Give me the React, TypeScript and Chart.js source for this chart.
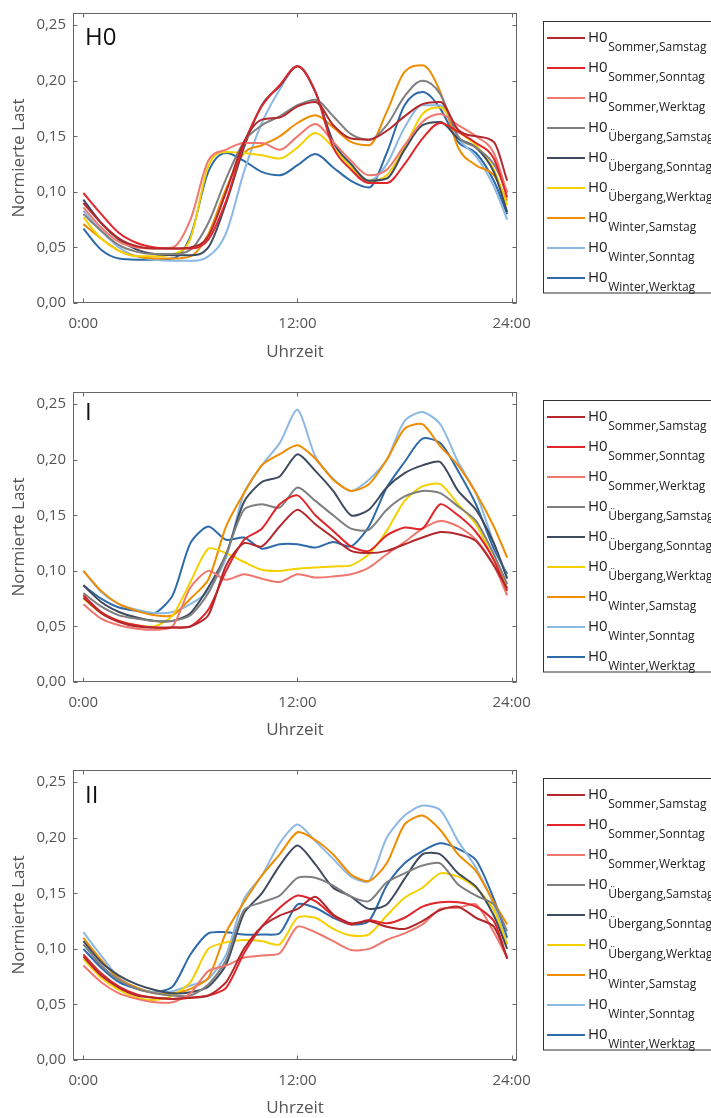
import React, { useEffect, useRef } from 'react';
import { Chart, registerables } from 'chart.js';

Chart.register(...registerables);
Chart.defaults.font.family = '"Open Sans", sans-serif';

// ---------- shared axes / labels ----------
const HOURS = [0, 1, 2, 3, 4, 5, 6, 7, 8, 9, 10, 11, 12, 13, 14, 15, 16, 17, 18, 19, 20, 21, 22, 23, 23.75];
const X_TICK_HOURS = [0, 12, 24];
const X_TICK_LABELS = ['0:00', '12:00', '24:00'];
const Y_TICK_VALUES = [0, 0.05, 0.1, 0.15, 0.2, 0.25];
const Y_TICK_LABELS = ['0,00', '0,05', '0,10', '0,15', '0,20', '0,25'];
const X_TITLE = 'Uhrzeit';
const Y_TITLE = 'Normierte Last';
const PANEL_LABELS = ['H0', 'I', 'II'];
const LEGEND_PREFIX = 'H0';
const SERIES_NAMES = [
  'Sommer,Samstag', 'Sommer,Sonntag', 'Sommer,Werktag',
  'Übergang,Samstag', 'Übergang,Sonntag', 'Übergang,Werktag',
  'Winter,Samstag', 'Winter,Sonntag', 'Winter,Werktag',
];
const SERIES_COLORS = ['#b3282d', '#e0252b', '#f0776e', '#7f7f7f', '#3e4a5e', '#f5d000', '#ef8c00', '#8cb8e4', '#2e6aa9'];

// ---------- panel H0 ----------
const H0_SOMMER_SAMSTAG = [0.090, 0.072, 0.058, 0.051, 0.049, 0.049, 0.050, 0.060, 0.100, 0.145, 0.165, 0.167, 0.177, 0.181, 0.160, 0.148, 0.147, 0.155, 0.168, 0.179, 0.181, 0.156, 0.150, 0.145, 0.110];
const H0_SOMMER_SONNTAG = [0.099, 0.080, 0.063, 0.054, 0.050, 0.049, 0.049, 0.057, 0.092, 0.143, 0.177, 0.196, 0.213, 0.190, 0.140, 0.120, 0.108, 0.108, 0.125, 0.148, 0.162, 0.154, 0.144, 0.130, 0.095];
const H0_SOMMER_WERKTAG = [0.086, 0.068, 0.055, 0.050, 0.049, 0.050, 0.075, 0.128, 0.138, 0.144, 0.144, 0.138, 0.150, 0.161, 0.145, 0.128, 0.115, 0.120, 0.142, 0.163, 0.170, 0.160, 0.150, 0.135, 0.099];
const H0_UEBERGANG_SAMSTAG = [0.080, 0.065, 0.052, 0.046, 0.044, 0.044, 0.048, 0.072, 0.112, 0.145, 0.160, 0.168, 0.178, 0.183, 0.168, 0.152, 0.147, 0.160, 0.186, 0.200, 0.188, 0.150, 0.140, 0.125, 0.100];
const H0_UEBERGANG_SONNTAG = [0.093, 0.072, 0.057, 0.048, 0.044, 0.043, 0.043, 0.050, 0.090, 0.140, 0.178, 0.195, 0.213, 0.190, 0.145, 0.125, 0.110, 0.112, 0.138, 0.160, 0.163, 0.148, 0.140, 0.118, 0.082];
const H0_UEBERGANG_WERKTAG = [0.077, 0.058, 0.047, 0.042, 0.042, 0.044, 0.058, 0.123, 0.136, 0.135, 0.133, 0.130, 0.140, 0.153, 0.140, 0.122, 0.110, 0.115, 0.140, 0.170, 0.176, 0.155, 0.142, 0.120, 0.088];
const H0_WINTER_SAMSTAG = [0.071, 0.058, 0.047, 0.042, 0.040, 0.040, 0.042, 0.062, 0.103, 0.135, 0.142, 0.150, 0.162, 0.169, 0.158, 0.145, 0.142, 0.172, 0.208, 0.214, 0.190, 0.140, 0.124, 0.115, 0.092];
const H0_WINTER_SONNTAG = [0.083, 0.065, 0.050, 0.042, 0.039, 0.038, 0.038, 0.042, 0.063, 0.118, 0.162, 0.192, 0.213, 0.190, 0.145, 0.125, 0.110, 0.125, 0.158, 0.178, 0.178, 0.148, 0.132, 0.105, 0.075];
const H0_WINTER_WERKTAG = [0.067, 0.048, 0.040, 0.039, 0.039, 0.040, 0.060, 0.118, 0.135, 0.128, 0.118, 0.115, 0.124, 0.134, 0.122, 0.110, 0.104, 0.135, 0.178, 0.190, 0.175, 0.145, 0.135, 0.110, 0.080];

// ---------- panel I ----------
const I_SOMMER_SAMSTAG = [0.076, 0.062, 0.054, 0.050, 0.049, 0.049, 0.050, 0.060, 0.105, 0.125, 0.122, 0.140, 0.155, 0.142, 0.130, 0.118, 0.116, 0.118, 0.124, 0.130, 0.135, 0.133, 0.127, 0.105, 0.084];
const I_SOMMER_SONNTAG = [0.078, 0.063, 0.055, 0.051, 0.049, 0.049, 0.050, 0.065, 0.100, 0.128, 0.138, 0.160, 0.168, 0.150, 0.136, 0.122, 0.118, 0.132, 0.139, 0.138, 0.160, 0.150, 0.135, 0.110, 0.082];
const I_SOMMER_WERKTAG = [0.070, 0.057, 0.051, 0.048, 0.047, 0.050, 0.085, 0.100, 0.092, 0.097, 0.093, 0.090, 0.097, 0.094, 0.095, 0.097, 0.103, 0.115, 0.126, 0.138, 0.145, 0.140, 0.128, 0.105, 0.078];
const I_UEBERGANG_SAMSTAG = [0.080, 0.068, 0.060, 0.057, 0.055, 0.055, 0.060, 0.080, 0.115, 0.155, 0.160, 0.157, 0.175, 0.163, 0.150, 0.138, 0.137, 0.155, 0.167, 0.172, 0.170, 0.158, 0.145, 0.115, 0.088];
const I_UEBERGANG_SONNTAG = [0.087, 0.072, 0.063, 0.058, 0.055, 0.055, 0.062, 0.085, 0.115, 0.162, 0.180, 0.185, 0.205, 0.190, 0.172, 0.150, 0.155, 0.175, 0.188, 0.195, 0.198, 0.172, 0.155, 0.125, 0.093];
const I_UEBERGANG_WERKTAG = [0.075, 0.062, 0.055, 0.051, 0.050, 0.060, 0.090, 0.120, 0.116, 0.108, 0.101, 0.100, 0.102, 0.103, 0.104, 0.105, 0.115, 0.136, 0.163, 0.176, 0.178, 0.160, 0.142, 0.110, 0.085];
const I_WINTER_SAMSTAG = [0.100, 0.082, 0.070, 0.064, 0.060, 0.060, 0.075, 0.092, 0.140, 0.170, 0.195, 0.205, 0.213, 0.201, 0.182, 0.172, 0.178, 0.200, 0.228, 0.232, 0.212, 0.195, 0.170, 0.140, 0.112];
const I_WINTER_SONNTAG = [0.100, 0.081, 0.070, 0.065, 0.062, 0.063, 0.070, 0.082, 0.112, 0.170, 0.195, 0.215, 0.245, 0.203, 0.183, 0.172, 0.182, 0.200, 0.235, 0.243, 0.232, 0.198, 0.170, 0.125, 0.094];
const I_WINTER_WERKTAG = [0.087, 0.075, 0.067, 0.064, 0.062, 0.078, 0.125, 0.140, 0.128, 0.130, 0.120, 0.124, 0.124, 0.121, 0.126, 0.122, 0.140, 0.175, 0.198, 0.219, 0.215, 0.190, 0.160, 0.120, 0.097];

// ---------- panel II ----------
const II_SOMMER_SAMSTAG = [0.093, 0.076, 0.065, 0.058, 0.056, 0.055, 0.056, 0.058, 0.070, 0.100, 0.120, 0.130, 0.136, 0.147, 0.131, 0.123, 0.125, 0.120, 0.118, 0.125, 0.135, 0.138, 0.128, 0.120, 0.092];
const II_SOMMER_SONNTAG = [0.095, 0.078, 0.066, 0.059, 0.056, 0.055, 0.056, 0.058, 0.065, 0.096, 0.120, 0.137, 0.148, 0.143, 0.130, 0.122, 0.126, 0.123, 0.128, 0.138, 0.142, 0.142, 0.138, 0.125, 0.091];
const II_SOMMER_WERKTAG = [0.085, 0.070, 0.060, 0.055, 0.052, 0.052, 0.060, 0.080, 0.085, 0.092, 0.094, 0.096, 0.120, 0.115, 0.107, 0.099, 0.100, 0.108, 0.114, 0.122, 0.136, 0.137, 0.140, 0.115, 0.092];
const II_UEBERGANG_SAMSTAG = [0.104, 0.085, 0.072, 0.064, 0.060, 0.058, 0.058, 0.068, 0.090, 0.135, 0.142, 0.148, 0.164, 0.164, 0.157, 0.147, 0.143, 0.160, 0.168, 0.175, 0.177, 0.158, 0.148, 0.140, 0.116];
const II_UEBERGANG_SONNTAG = [0.107, 0.088, 0.076, 0.068, 0.063, 0.060, 0.061, 0.066, 0.086, 0.132, 0.150, 0.175, 0.193, 0.176, 0.155, 0.147, 0.136, 0.140, 0.163, 0.185, 0.185, 0.168, 0.156, 0.130, 0.100];
const II_UEBERGANG_WERKTAG = [0.091, 0.074, 0.063, 0.056, 0.054, 0.058, 0.070, 0.100, 0.106, 0.108, 0.107, 0.104, 0.128, 0.128, 0.118, 0.112, 0.113, 0.130, 0.146, 0.155, 0.168, 0.165, 0.155, 0.135, 0.104];
const II_WINTER_SAMSTAG = [0.110, 0.090, 0.073, 0.065, 0.060, 0.060, 0.064, 0.074, 0.115, 0.142, 0.166, 0.185, 0.205, 0.198, 0.185, 0.167, 0.161, 0.177, 0.212, 0.220, 0.207, 0.185, 0.170, 0.142, 0.122];
const II_WINTER_SONNTAG = [0.115, 0.094, 0.074, 0.065, 0.061, 0.062, 0.067, 0.073, 0.095, 0.145, 0.166, 0.195, 0.212, 0.197, 0.181, 0.165, 0.161, 0.200, 0.220, 0.229, 0.225, 0.197, 0.173, 0.140, 0.104];
const II_WINTER_WERKTAG = [0.100, 0.083, 0.070, 0.064, 0.061, 0.066, 0.095, 0.114, 0.115, 0.113, 0.113, 0.114, 0.140, 0.137, 0.128, 0.122, 0.125, 0.157, 0.177, 0.188, 0.195, 0.190, 0.180, 0.145, 0.110];

const PANEL_SERIES = [
  [H0_SOMMER_SAMSTAG, H0_SOMMER_SONNTAG, H0_SOMMER_WERKTAG, H0_UEBERGANG_SAMSTAG, H0_UEBERGANG_SONNTAG, H0_UEBERGANG_WERKTAG, H0_WINTER_SAMSTAG, H0_WINTER_SONNTAG, H0_WINTER_WERKTAG],
  [I_SOMMER_SAMSTAG, I_SOMMER_SONNTAG, I_SOMMER_WERKTAG, I_UEBERGANG_SAMSTAG, I_UEBERGANG_SONNTAG, I_UEBERGANG_WERKTAG, I_WINTER_SAMSTAG, I_WINTER_SONNTAG, I_WINTER_WERKTAG],
  [II_SOMMER_SAMSTAG, II_SOMMER_SONNTAG, II_SOMMER_WERKTAG, II_UEBERGANG_SAMSTAG, II_UEBERGANG_SONNTAG, II_UEBERGANG_WERKTAG, II_WINTER_SAMSTAG, II_WINTER_SONNTAG, II_WINTER_WERKTAG],
];

// ---------- layout (styles) ----------
const W = 711;
const PANELS = [
  { top: 0, height: 379, labelBaseline: 45, titlePad: 17, smooth: true },
  { top: 379, height: 378, labelBaseline: 41, titlePad: 17, smooth: false },
  { top: 757, height: 361, labelBaseline: 46, titlePad: 0, smooth: false },
];
const AREA_TOP = 13;
const AREA_BOTTOM = 303;
const AREA_LEFT = 73;
const AREA_RIGHT = 517;
const FONT = '"Open Sans", sans-serif';
const TEXT_GRAY = '#555';

function makeDecorPlugin(panelIdx: number, labelBaseline: number) {
  return {
    id: 'decor' + panelIdx,
    afterDraw(chart: any) {
      const { ctx, chartArea: a, scales } = chart;
      const xs = scales.x;
      const ys = scales.y;
      ctx.save();
      // frame
      ctx.strokeStyle = '#666';
      ctx.lineWidth = 1;
      const L = Math.round(a.left) + 0.5;
      const R = Math.round(a.right) - 0.5;
      const T = Math.round(a.top) + 0.5;
      const B = Math.round(a.bottom) - 0.5;
      ctx.strokeRect(L, T, R - L, B - T);
      // inward ticks on all four sides
      ctx.beginPath();
      X_TICK_HOURS.forEach((h) => {
        const px = Math.round(xs.getPixelForValue(h)) + 0.5;
        ctx.moveTo(px, B); ctx.lineTo(px, B - 4);
        ctx.moveTo(px, T); ctx.lineTo(px, T + 4);
      });
      Y_TICK_VALUES.forEach((v) => {
        const py = Math.round(ys.getPixelForValue(v)) + 0.5;
        ctx.moveTo(L, py); ctx.lineTo(L + 4, py);
        ctx.moveTo(R, py); ctx.lineTo(R - 4, py);
      });
      ctx.stroke();
      // panel label
      ctx.fillStyle = '#111';
      ctx.font = `24px ${FONT}`;
      ctx.textAlign = 'left';
      ctx.textBaseline = 'alphabetic';
      ctx.fillText(PANEL_LABELS[panelIdx], 85, labelBaseline);
      // legend box
      ctx.strokeStyle = '#333';
      ctx.strokeRect(543.5, 21.5, 220, 271.5);
      SERIES_NAMES.forEach((name, i) => {
        const y = 38 + i * 30;
        ctx.strokeStyle = SERIES_COLORS[i];
        ctx.lineWidth = 2;
        ctx.beginPath();
        ctx.moveTo(547, y);
        ctx.lineTo(585, y);
        ctx.stroke();
        ctx.fillStyle = '#222';
        ctx.font = `15px ${FONT}`;
        ctx.fillText(LEGEND_PREFIX, 588, y + 3.5);
        const w = ctx.measureText(LEGEND_PREFIX).width;
        ctx.font = `12px ${FONT}`;
        ctx.fillText(name, 588 + w + 0.5, y + 13);
      });
      ctx.restore();
    },
  };
}

function Panel({ idx }: { idx: number }) {
  const ref = useRef<HTMLCanvasElement>(null);
  const p = PANELS[idx];
  useEffect(() => {
    const canvas = ref.current;
    if (!canvas) return;
    const series = PANEL_SERIES[idx];
    const chart = new Chart(canvas, {
      type: 'line',
      data: {
        datasets: series.map((vals, i) => ({
          label: LEGEND_PREFIX + ' ' + SERIES_NAMES[i],
          data: HOURS.map((h, j) => ({ x: h, y: vals[j] })),
          borderColor: SERIES_COLORS[i],
          backgroundColor: SERIES_COLORS[i],
          borderWidth: 2,
          pointRadius: 0,
          fill: false,
          ...(p.smooth ? { cubicInterpolationMode: 'monotone' as const } : { tension: 0.25 }),
        })),
      },
      options: {
        responsive: false,
        animation: false,
        events: [],
        layout: { padding: { left: 0, top: AREA_TOP, right: W - AREA_RIGHT, bottom: 0 } },
        plugins: { legend: { display: false }, tooltip: { enabled: false } },
        scales: {
          x: {
            type: 'linear',
            min: -0.58,
            max: 24.3,
            afterBuildTicks: (s: any) => { s.ticks = X_TICK_HOURS.map((v) => ({ value: v })); },
            afterFit: (s: any) => { s.height = p.height - AREA_BOTTOM; s.paddingLeft = 0; s.paddingRight = 0; },
            grid: { display: false, drawTicks: false },
            border: { display: false },
            ticks: {
              padding: 12,
              maxRotation: 0,
              autoSkip: false,
              color: TEXT_GRAY,
              font: { size: 15, family: FONT },
              callback: (_v: any, i: number) => X_TICK_LABELS[i],
            },
            title: { display: true, text: X_TITLE, color: TEXT_GRAY, font: { size: 17, family: FONT }, padding: { top: 0, bottom: p.titlePad } },
          },
          y: {
            type: 'linear',
            min: 0,
            max: 0.261,
            afterBuildTicks: (s: any) => { s.ticks = Y_TICK_VALUES.map((v) => ({ value: v })); },
            afterFit: (s: any) => { s.width = AREA_LEFT; s.paddingTop = 0; s.paddingBottom = 0; },
            grid: { display: false, drawTicks: false },
            border: { display: false },
            ticks: {
              padding: 7,
              color: TEXT_GRAY,
              font: { size: 15, family: FONT },
              callback: (_v: any, i: number) => Y_TICK_LABELS[i],
            },
            title: { display: true, text: Y_TITLE, color: TEXT_GRAY, font: { size: 17, family: FONT }, padding: { top: 9, bottom: 0 } },
          },
        },
      },
      plugins: [makeDecorPlugin(idx, p.labelBaseline)],
    } as any);
    return () => chart.destroy();
  }, [idx]);
  return (
    <canvas
      ref={ref}
      width={W}
      height={p.height}
      style={{ position: 'absolute', left: 0, top: p.top, display: 'block', width: W, height: p.height }}
    />
  );
}

export default function App() {
  return (
    <div style={{ position: 'absolute', left: 0, top: 0, width: W, height: 1118, background: '#fff', overflow: 'hidden' }}>
      <Panel idx={0} />
      <Panel idx={1} />
      <Panel idx={2} />
    </div>
  );
}
